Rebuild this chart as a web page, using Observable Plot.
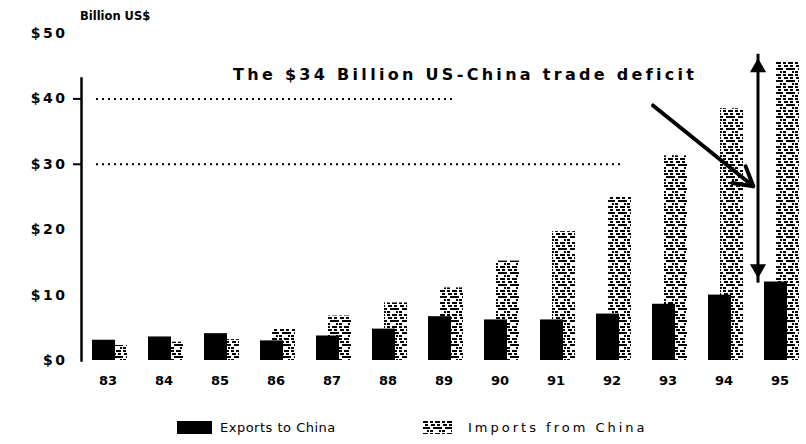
<!DOCTYPE html>
<html><head><meta charset="utf-8">
<script src="https://cdn.jsdelivr.net/npm/d3@7"></script>
<script src="https://cdn.jsdelivr.net/npm/@observablehq/plot@0.6"></script>
<style>
body{margin:0;background:#fff;font-family:"DejaVu Sans",sans-serif;color:#000;}
#wrap{position:relative;width:806px;height:444px;overflow:hidden;}
#title{height:26px;position:relative;}
#title span{position:absolute;left:80px;top:9px;font-weight:bold;font-size:11.5px;}
#chart{height:378px;}
#legend{position:relative;height:40px;font-size:13px;}
#legend span{position:absolute;top:16px;line-height:15px;}
</style></head><body>
<div id="wrap">
  <div id="title"><span>Billion US$</span></div>
  <div id="chart"></div>
  <div id="legend">
    <div style="position:absolute;left:177px;top:17px;width:35px;height:13px;background:#000"></div>
    <span style="left:220px;letter-spacing:0.5px">Exports to China</span>
    <svg style="position:absolute;left:423px;top:17px" width="29" height="13">
      <defs><pattern id="legPat" patternUnits="userSpaceOnUse" width="12" height="12">
        <rect x="0" y="0" width="5" height="2"/><rect x="7" y="0" width="3" height="2"/>
        <rect x="2" y="3" width="3" height="2"/><rect x="8" y="3" width="4" height="2"/>
        <rect x="0" y="6" width="7" height="2"/><rect x="10" y="6" width="2" height="2"/>
        <rect x="4" y="9" width="2" height="2"/><rect x="7" y="9" width="3" height="2"/>
      </pattern></defs>
      <rect width="29" height="13" fill="url(#legPat)"/>
    </svg>
    <span style="left:468px;letter-spacing:3px">Imports from China</span>
  </div>
</div>
<script>
const years = ["83","84","85","86","87","88","89","90","91","92","93","94","95"];
const exportsToChina = [3.1, 3.6, 4.1, 3.0, 3.75, 4.8, 6.7, 6.2, 6.2, 7.1, 8.6, 10.0, 12.0];
const importsFromChina = [2.3, 2.8, 3.2, 4.8, 6.8, 8.8, 11.1, 15.2, 19.7, 25.0, 31.3, 38.5, 45.6];
const yTicks = [0, 10, 20, 30, 40, 50];
const tickMarks = [30, 40];
const gridValues = [40, 30];
const gridFrom = ["83", "83"];
const gridTo = ["89", "92"];
const annotationText = "The $34 Billion US-China trade deficit";
const annotationAt = [{x: "85", y: 43.6}];
const deficitArrow = [{x: "95", low: 11.9, high: 46.9, headLow: 14.0, headHigh: 44.8}];
const pointerArrow = [{x1: "93", y1: 39.0, x2: "95", y2: 25.2}];

const table = years.map((year, i) => ({year, exports: exportsToChina[i], imports: importsFromChina[i]}));
const grid = gridValues.map((y, i) => ({y, from: gridFrom[i], to: gridTo[i]}));

const plot = Plot.plot({
  width: 806, height: 378,
  marginLeft: 81, marginRight: 0, marginTop: 7, marginBottom: 44,
  style: {fontFamily: "DejaVu Sans", fontSize: "13px", fontWeight: "bold", background: "white", color: "black"},
  x: {type: "band", domain: years, paddingInner: 0.59, paddingOuter: 0.257, label: null},
  y: {domain: [0, 50], label: null},
  marks: [
    Plot.ruleY(grid, {y: "y", x1: "from", x2: "to", stroke: "black", strokeWidth: 2, strokeDasharray: "2,4"}),
    Plot.barY(table, {x: "year", y: "imports", fill: "url(#impPattern)", dx: 8}),
    Plot.barY(table, {x: "year", y: "exports", fill: "black", dx: -4}),
    Plot.frame({anchor: "left", insetTop: 45, strokeWidth: 2.5}),
    Plot.axisY({ticks: yTicks, tickSize: 0, tickPadding: 14, tickFormat: d => "$" + d, label: null, fontSize: 14}),
    Plot.axisY({ticks: tickMarks, tickSize: 8, strokeWidth: 2, tickFormat: () => "", label: null}),
    Plot.axisX({tickSize: 0, tickPadding: 15, label: null, fontSize: 13}),
    Plot.text(annotationAt, {x: "x", y: "y", text: () => annotationText, textAnchor: "start", dx: 13, fontSize: 16, fontWeight: "bold"}),
    Plot.link(deficitArrow, {x1: "x", x2: "x", y1: "low", y2: "high", dx: -22, strokeWidth: 3, stroke: "black"}),
    Plot.dot(deficitArrow, {x: "x", y: "headHigh", symbol: "triangle", r: 6, fill: "black", dx: -22}),
    Plot.dot(deficitArrow, {x: "x", y: "headLow", symbol: "triangle", r: 6, fill: "black", rotate: 180, dx: -22}),
    Plot.arrow(pointerArrow, {x1: "x1", y1: "y1", x2: "x2", y2: "y2", dx: -15, insetEnd: 15, strokeWidth: 4, headLength: 8, stroke: "black"})
  ]
});

d3.select(plot).insert("defs", ":first-child").html(`
  <pattern id="impPattern" patternUnits="userSpaceOnUse" width="12" height="12">
    <rect x="0" y="0" width="5" height="2"/><rect x="7" y="0" width="3" height="2"/>
    <rect x="2" y="3" width="3" height="2"/><rect x="8" y="3" width="4" height="2"/>
    <rect x="0" y="6" width="7" height="2"/><rect x="10" y="6" width="2" height="2"/>
    <rect x="4" y="9" width="2" height="2"/><rect x="7" y="9" width="3" height="2"/>
  </pattern>`);
d3.select(plot).selectAll("text")
  .filter(function() { return this.textContent === annotationText; })
  .attr("letter-spacing", 3.3);
d3.select(plot).selectAll('g[aria-label="y-axis tick label"] text').attr("letter-spacing", 2.5);
document.getElementById("chart").appendChild(plot);
</script>
</body></html>
